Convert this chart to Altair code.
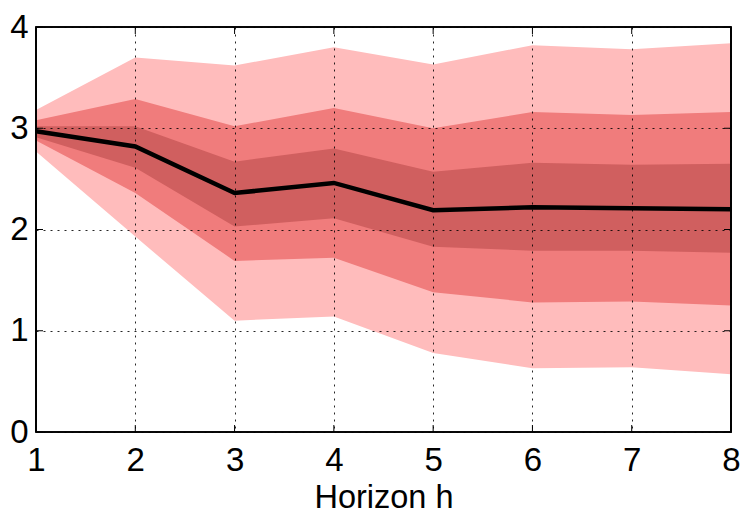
import altair as alt
import pandas as pd

h = [1, 2, 3, 4, 5, 6, 7, 8]
median = [2.97, 2.82, 2.36, 2.46, 2.19, 2.22, 2.21, 2.20]
dark_upper = [3.02, 3.02, 2.67, 2.80, 2.57, 2.66, 2.64, 2.65]
dark_lower = [2.91, 2.61, 2.03, 2.11, 1.83, 1.79, 1.79, 1.77]
mid_upper = [3.08, 3.29, 3.02, 3.20, 3.00, 3.16, 3.13, 3.16]
mid_lower = [2.88, 2.36, 1.69, 1.72, 1.38, 1.28, 1.29, 1.25]
light_upper = [3.18, 3.70, 3.62, 3.80, 3.63, 3.82, 3.78, 3.84]
light_lower = [2.77, 1.93, 1.10, 1.14, 0.78, 0.63, 0.64, 0.57]
x_ticks = [1, 2, 3, 4, 5, 6, 7, 8]
y_ticks = [0, 1, 2, 3, 4]

W, H = 695, 405

df = pd.DataFrame({
    "h": h, "median": median,
    "dl": dark_lower, "du": dark_upper,
    "ml": mid_lower, "mu": mid_upper,
    "ll": light_lower, "lu": light_upper,
})
xt = pd.DataFrame({"h": x_ticks})
yt = pd.DataFrame({"v": y_ticks})

FONT = "Liberation Sans"

xs = alt.Scale(domain=[1, 8], nice=False, zero=False)
ys = alt.Scale(domain=[0, 4], nice=False)

x_enc = alt.X("h:Q", scale=xs, axis=alt.Axis(
    values=x_ticks, title="Horizon h", format="d",
    grid=True, gridDash=[2, 5], gridColor="#000", gridOpacity=0.85,
    domain=False, ticks=False, labelFlush=False, labelOverlap=False,
    labelPadding=12.5, labelFontSize=33, titleFontSize=32.5, titleFontWeight="normal",
    titlePadding=4, labelFont=FONT, titleFont=FONT, labelColor="#000", titleColor="#000",
    zindex=1))

base = alt.Chart(df)

def band(lo, hi, color):
    return base.mark_area(color=color, opacity=1).encode(
        x=x_enc,
        y=alt.Y(f"{lo}:Q", scale=ys, title=None, axis=alt.Axis(
            values=y_ticks, format="d",
            grid=True, gridDash=[2, 5], gridColor="#000", gridOpacity=0.85,
            domain=False, ticks=False, labelFlush=False, labelOverlap=False,
            labelPadding=8, labelFontSize=33, labelFont=FONT, labelColor="#000",
            zindex=1)),
        y2=f"{hi}:Q")

light = band("ll", "lu", "#FFBCBC")
mid = band("ml", "mu", "#F07C7C")
dark = band("dl", "du", "#D05F5F")

line = base.mark_line(color="#000", strokeWidth=4.5).encode(
    x=alt.X("h:Q", scale=xs), y=alt.Y("median:Q", scale=ys))

tick_top = alt.Chart(xt).mark_rule(color="#000", strokeWidth=1).encode(
    x=alt.X("h:Q", scale=xs), y=alt.value(0), y2=alt.value(7))
tick_bot = alt.Chart(xt).mark_rule(color="#000", strokeWidth=1).encode(
    x=alt.X("h:Q", scale=xs), y=alt.value(H), y2=alt.value(H - 7))
tick_left = alt.Chart(yt).mark_rule(color="#000", strokeWidth=1).encode(
    y=alt.Y("v:Q", scale=ys), x=alt.value(0), x2=alt.value(7))
tick_right = alt.Chart(yt).mark_rule(color="#000", strokeWidth=1).encode(
    y=alt.Y("v:Q", scale=ys), x=alt.value(W), x2=alt.value(W - 7))

frame = alt.Chart(yt).mark_rect(fill=None, stroke="#000", strokeWidth=1.2).encode(
    x=alt.value(0), x2=alt.value(W), y=alt.value(0), y2=alt.value(H))

chart = alt.layer(light, mid, dark, line, tick_top, tick_bot, tick_left, tick_right, frame).properties(
    width=W, height=H,
    autosize=alt.AutoSizeParams(type="none"),
    padding={"left": 28, "top": 19, "right": 10, "bottom": 82},
).configure_view(stroke=None)

chart.save("out.html", embed_options={"renderer": "svg", "actions": False})
